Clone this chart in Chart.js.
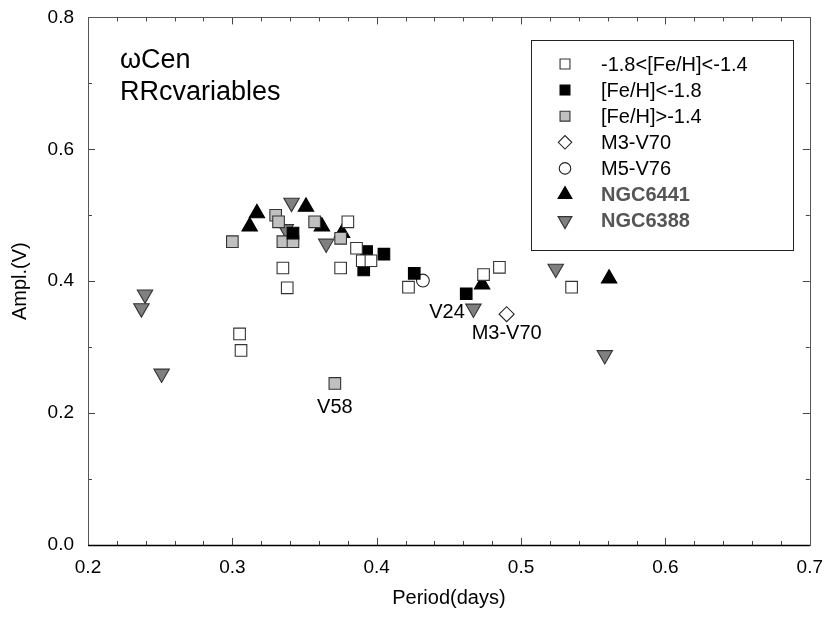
<!DOCTYPE html>
<html>
<head>
<meta charset="utf-8">
<script src="https://cdn.jsdelivr.net/npm/chart.js@4.4.0/dist/chart.umd.min.js"></script>
<style>
  html, body { margin: 0; padding: 0; background: #fff; }
  #chart { display: block; }
</style>
</head>
<body>
<canvas id="chart" width="826" height="627"></canvas>
<script>
// -1.8<[Fe/H]<-1.4 (open squares)
const midMetal = [
  [0.305, 0.320], [0.306, 0.295], [0.335, 0.420], [0.338, 0.390], [0.375, 0.420],
  [0.380, 0.490], [0.386, 0.450], [0.390, 0.431], [0.396, 0.431], [0.422, 0.391],
  [0.474, 0.410], [0.485, 0.421], [0.535, 0.391]
];
// [Fe/H]<-1.8 (filled squares)
const lowMetal = [
  [0.342, 0.473], [0.393, 0.445], [0.405, 0.441], [0.391, 0.417], [0.426, 0.412],
  [0.462, 0.381]
];
// [Fe/H]>-1.4 (grey squares)
const highMetal = [
  [0.300, 0.460], [0.330, 0.500], [0.332, 0.490], [0.357, 0.490], [0.335, 0.460],
  [0.342, 0.460], [0.375, 0.465], [0.371, 0.245]
];
const m3v70 = [[0.490, 0.350]];
const m5v76 = [[0.432, 0.401]];
const ngc6441 = [
  [0.317, 0.503], [0.312, 0.483], [0.351, 0.513], [0.362, 0.483], [0.376, 0.473],
  [0.473, 0.395], [0.561, 0.404]
];
const ngc6388 = [
  [0.2395, 0.380], [0.237, 0.359], [0.251, 0.260], [0.341, 0.519], [0.337, 0.479],
  [0.365, 0.457], [0.467, 0.3585], [0.524, 0.419], [0.558, 0.288]
];

const seriesNames = ['-1.8<[Fe/H]<-1.4', '[Fe/H]<-1.8', '[Fe/H]>-1.4', 'M3-V70', 'M5-V76', 'NGC6441', 'NGC6388'];
const starLabels = [
  {text: 'V58', x: 0.371, y: 0.245, dy: 24},
  {text: 'V24', x: 0.461, y: 0.352, dy: 0},
  {text: 'M3-V70', x: 0.490, y: 0.350, dy: 19}
];
const xTicksMinor = [0.22, 0.24, 0.26, 0.28, 0.32, 0.34, 0.36, 0.38, 0.42, 0.44, 0.46, 0.48, 0.52, 0.54, 0.56, 0.58, 0.62, 0.64, 0.66, 0.68];
const xTicksMajor = [0.2, 0.3, 0.4, 0.5, 0.6, 0.7];
const yTicksMinor = [0.1, 0.3, 0.5, 0.7];
const yTicksMajor = [0.0, 0.2, 0.4, 0.6, 0.8];

const FONT = '"Liberation Sans", Arial, sans-serif';

function toPoints(arr) {
  return arr.map(p => ({x: p[0], y: p[1]}));
}

const styles = [
  {pointStyle: 'rect', radius: 8.2, rotation: 0, fill: '#fff', stroke: '#333'},
  {pointStyle: 'rect', radius: 8.2, rotation: 0, fill: '#000', stroke: '#000'},
  {pointStyle: 'rect', radius: 8.2, rotation: 0, fill: '#c0c0c0', stroke: '#333'},
  {pointStyle: 'rectRot', radius: 7.5, rotation: 0, fill: '#fff', stroke: '#222'},
  {pointStyle: 'circle', radius: 6.4, rotation: 0, fill: '#fff', stroke: '#222'},
  {pointStyle: 'triangle', radius: 8.9, rotation: 0, fill: '#000', stroke: '#000'},
  {pointStyle: 'triangle', radius: 8.9, rotation: 180, fill: '#808080', stroke: '#333'}
];
const seriesData = [midMetal, lowMetal, highMetal, m3v70, m5v76, ngc6441, ngc6388];

const datasets = seriesData.map((d, i) => ({
  label: seriesNames[i],
  data: toPoints(d),
  pointStyle: styles[i].pointStyle,
  pointRadius: styles[i].radius,
  pointHoverRadius: styles[i].radius,
  rotation: styles[i].rotation,
  backgroundColor: styles[i].fill,
  borderColor: styles[i].stroke,
  borderWidth: 1.1,
  showLine: false
}));

// frame with inward ticks on all four sides, legend box and text notes
const decorPlugin = {
  id: 'decor',
  afterDraw(chart) {
    const {ctx, chartArea: a, scales: {x, y}} = chart;
    ctx.save();
    ctx.strokeStyle = '#444';
    ctx.lineWidth = 1;
    const tick = (x1, y1, x2, y2) => {
      ctx.beginPath();
      ctx.moveTo(x1, y1);
      ctx.lineTo(x2, y2);
      ctx.stroke();
    };
    xTicksMinor.concat(xTicksMajor).forEach(v => {
      const px = Math.round(x.getPixelForValue(v)) + 0.5;
      const len = xTicksMajor.includes(v) ? 7 : 4;
      tick(px, a.bottom, px, a.bottom - len);
      tick(px, a.top, px, a.top + len);
    });
    yTicksMinor.concat(yTicksMajor).forEach(v => {
      const py = Math.round(y.getPixelForValue(v)) + 0.5;
      const len = yTicksMajor.includes(v) ? 7 : 4;
      tick(a.left, py, a.left + len, py);
      tick(a.right, py, a.right - len, py);
    });
    ctx.strokeStyle = '#555';
    ctx.strokeRect(Math.round(a.left) + 0.5, Math.round(a.top) + 0.5,
      Math.round(a.right - a.left), Math.round(a.bottom - a.top));
    ctx.strokeStyle = '#000';
    ctx.lineWidth = 1.5;
    tick(a.left, Math.round(a.bottom) + 0.5, a.right, Math.round(a.bottom) + 0.5);

    // notes
    ctx.fillStyle = '#000';
    ctx.font = '27px ' + FONT;
    ctx.textAlign = 'left';
    ctx.textBaseline = 'alphabetic';
    ctx.fillText('\u03c9Cen', 120, 68);
    ctx.fillText('RRcvariables', 120, 100);

    ctx.font = '20px ' + FONT;
    ctx.textBaseline = 'middle';
    starLabels.forEach(l => {
      const px = x.getPixelForValue(l.x);
      const py = y.getPixelForValue(l.y) + l.dy;
      ctx.textAlign = l.dy === 0 ? 'right' : 'center';
      ctx.fillText(l.text, px, py);
    });

    // legend
    const box = {left: 531.5, top: 40.5, right: 793.5, bottom: 250.5};
    ctx.fillStyle = '#fff';
    ctx.fillRect(box.left, box.top, box.right - box.left, box.bottom - box.top);
    ctx.strokeStyle = '#222';
    ctx.lineWidth = 1;
    ctx.strokeRect(box.left, box.top, box.right - box.left, box.bottom - box.top);
    seriesNames.forEach((name, i) => {
      const cy = 64 + i * 26.1;
      const s = styles[i];
      ctx.fillStyle = s.fill;
      ctx.strokeStyle = s.stroke;
      ctx.lineWidth = 1.1;
      Chart.helpers.drawPoint(ctx, {
        pointStyle: s.pointStyle, rotation: s.rotation,
        radius: s.pointStyle === 'rect' ? 7 : s.radius * 0.9, borderWidth: 1.1
      }, 565, cy);
      const bold = i >= 5;
      ctx.fillStyle = bold ? '#555' : '#000';
      ctx.font = (bold ? 'bold ' : '') + '20px ' + FONT;
      ctx.textAlign = 'left';
      ctx.textBaseline = 'middle';
      ctx.fillText(name, 601, cy + 1);
    });
    ctx.restore();
  }
};

new Chart(document.getElementById('chart'), {
  type: 'scatter',
  data: {datasets},
  options: {
    responsive: false,
    animation: false,
    devicePixelRatio: 1,
    layout: {padding: {top: 15, right: 16, left: 0, bottom: 0}},
    plugins: {legend: {display: false}, tooltip: {enabled: false}},
    scales: {
      x: {
        type: 'linear',
        min: 0.2,
        max: 0.7,
        afterFit: (scale) => { scale.height = 82; },
        grid: {display: false},
        border: {display: false},
        ticks: {
          stepSize: 0.1,
          padding: 3,
          color: '#000',
          font: {family: FONT, size: 19},
          callback: (v) => v.toFixed(1)
        },
        title: {
          display: true,
          text: 'Period(days)',
          color: '#000',
          font: {family: FONT, size: 20},
          padding: {top: 0, bottom: 17}
        }
      },
      y: {
        min: 0,
        max: 0.8,
        afterFit: (scale) => { scale.width = 88; },
        grid: {display: false},
        border: {display: false},
        ticks: {
          stepSize: 0.2,
          padding: 6,
          color: '#000',
          font: {family: FONT, size: 19},
          callback: (v) => v.toFixed(1)
        },
        title: {
          display: true,
          text: 'Ampl.(V)',
          color: '#000',
          font: {family: FONT, size: 20},
          padding: {top: 8, bottom: 0}
        }
      }
    }
  },
  plugins: [decorPlugin]
});
</script>
</body>
</html>
